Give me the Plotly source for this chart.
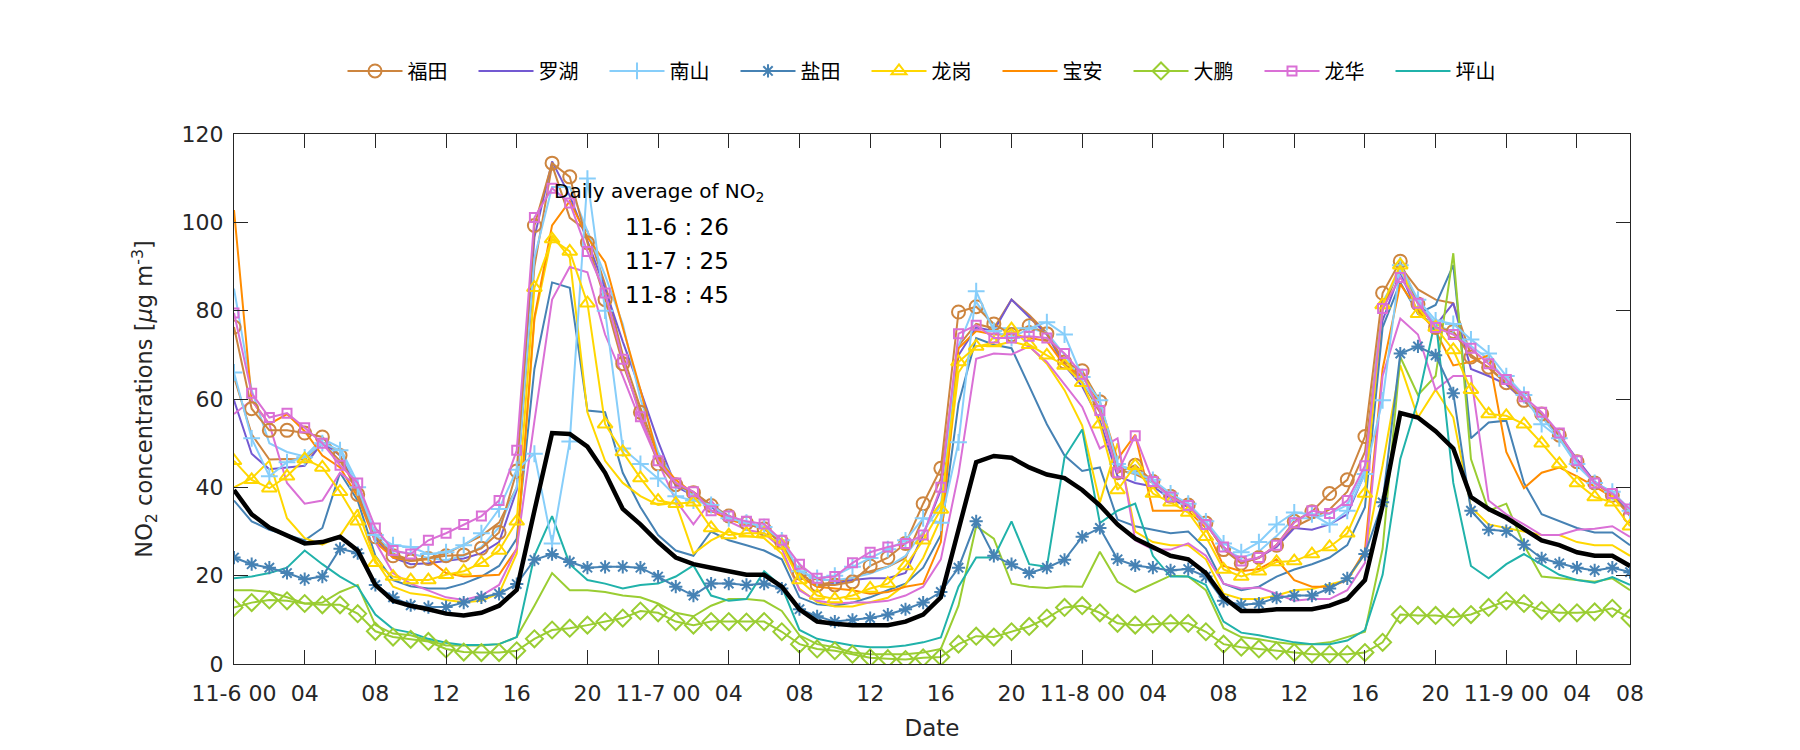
import plotly.graph_objects as go

# time index (hourly, 11-6 00:00 ... ), 80 points
hours = list(range(1, 81))

tick_vals = [1, 5, 9, 13, 17, 21, 25, 29, 33, 37, 41, 45, 49, 53, 57, 61, 65, 69, 73, 77, 80]
tick_text = ["11-6 00", "04", "08", "12", "16", "20", "11-7 00", "04", "08", "12", "16", "20",
             "11-8 00", "04", "08", "12", "16", "20", "11-9 00", "04", "08"]

futian = [76.3, 57.8, 52.9, 52.9, 52.3, 51.4, 47.2, 38.4, 28.8, 24.5, 23.3, 23.9, 24.5, 24.7, 26.2, 29.8, 43.7, 99.3, 113.4, 110.3, 95.4,
          82.5, 68.0, 57.0, 45.3, 40.6, 38.8, 35.9, 33.5, 31.9, 30.6, 27.6, 20.6, 17.9, 17.9, 18.6, 22.2, 24.1, 27.3, 36.3, 44.3,
          79.7, 80.9, 77.0, 74.6, 76.6, 74.8, 68.4, 66.4, 59.4, 43.3, 45.0, 41.3, 38.0, 36.0, 31.9, 25.9, 22.8, 24.1, 26.9, 32.3,
          34.5, 38.6, 41.7, 51.5, 84.0, 91.2, 81.5, 76.2, 75.3, 69.5, 67.2, 63.7, 59.7, 56.6, 51.8, 45.8, 41.0, 38.2, 33.5]
futian_2 = [65, 52, 46.3, 46.4, 46.3, 50, 46, 40, 29, 25, 23.5, 24, 25, 27, 29, 32, 40, 90, 113, 101, 98,
            86, 70, 58, 47, 41, 39, 36, 33.5, 32, 31, 28, 20.5, 18, 18.5, 19.5, 21, 22, 24, 33, 42,
            72, 77, 76, 82.5, 79, 75, 68, 64, 57, 44, 43, 41, 38, 36, 32, 26, 23, 24, 27, 31,
            33, 35, 39, 48, 80, 90, 84.8, 82.5, 81.7, 70, 67, 63.5, 59.5, 56, 51.5, 45.5, 41, 38.5, 34]
luohu = [59.7, 47.6, 44.1, 44.5, 44.9, 50.2, 47.2, 39.4, 28.4, 24.1, 22.6, 22.8, 23.3, 23.9, 25.1, 27.6, 39.4, 96.6, 113.8, 106.0, 95.8,
         85, 73, 62, 50.4, 40.2, 38.2, 35.5, 33.1, 31.7, 30.6, 27.3, 19.8, 17.5, 18.2, 19.0, 19.4, 19.4, 20.6, 29.2, 39.4,
         69.9, 76.2, 75.4, 82.5, 78.5, 74.6, 67.6, 62.9, 55.1, 42.5, 41.0, 40.2, 37.4, 35.5, 31.6, 26.5, 22.9, 24.1, 26.5, 30.8,
         30.4, 31.6, 33.9, 43.3, 77.8, 88.7, 79.3, 76.6, 81.7, 66.8, 65.2, 63.3, 59.7, 56.2, 51.9, 46.4, 41.3, 38.6, 33.9]
nanshan = [66.0, 51.1, 42.5, 45.7, 46.8, 50.0, 48.4, 40.0, 29.2, 26.9, 26.5, 24.9, 25.3, 26.9, 29.6, 35.1, 44.0, 47.6, 27.3, 50.4, 109.9,
           80, 48.8, 45.3, 42, 38, 37, 36, 33, 32, 31, 28, 21, 19.5, 20, 22, 24, 26, 28, 33, 32,
           50.2, 84.4, 75.4, 73.8, 76, 77.4, 74.6, 65, 59.7, 45.3, 43.3, 41.7, 38.6, 36.3, 32.3, 27.3, 25.3, 27.6, 31.6, 34.3,
           33.9, 31.6, 34.7, 43, 59.7, 90.3, 82.5, 77.8, 77, 73.5, 70.3, 65.2, 60.9, 54.3, 51.1, 45.3, 41.0, 39.0, 34.7]
nanshan_2 = [85, 62, 50, 48, 47, 51, 49, 41, 29, 25.5, 25, 24, 23.5, 24.5, 26.5, 31, 40, 92, 108, 108, 98,
             88, 77, 60, 48, 41, 38, 36, 33.5, 32, 31, 28, 21, 19, 19, 19.5, 20.5, 22, 24.5, 30, 36,
             72, 82, 76, 76, 76, 75, 70, 64, 58, 45, 44, 41, 38, 36, 32, 26, 24, 25.5, 29, 33,
             33, 34, 36, 44, 82, 89, 82, 77, 75, 72, 69, 64, 60, 56, 51, 45, 41, 39, 35]
yantian = [24.1, 22.6, 21.8, 20.6, 19.2, 19.8, 26.1, 25.1, 17.9, 15.1, 13.3, 12.9, 12.9, 13.9, 15.1, 15.9, 18.1, 23.6, 24.9, 23.1, 21.8,
           22.0, 22.0, 21.8, 19.8, 17.5, 15.5, 18.2, 18.2, 17.9, 18.2, 17.1, 12.4, 10.8, 9.6, 10.0, 10.4, 11.2, 12.4, 13.9, 16.3,
           21.8, 32.3, 24.5, 22.6, 20.6, 21.8, 23.6, 28.8, 30.8, 23.7, 22.3, 21.8, 21.2, 21.5, 19.8, 14.3, 13.4, 13.7, 15.0, 15.5,
           15.5, 17.1, 19.4, 24.9, 36.6, 70.3, 71.9, 69.9, 61.3, 34.7, 30.4, 30.1, 27.0, 23.9, 22.8, 21.8, 21.2, 21.8, 20.8]
yantian_2 = [37, 32.3, 30.4, 29.2, 28, 30.8, 43.3, 37, 24.5, 19, 17.6, 17.1, 17.1, 18.2, 19.8, 22.2, 28.4, 66.8, 86.4, 85.2, 57.4,
             57, 43.3, 35.5, 29.2, 25.7, 24.5, 30, 28, 26.9, 25.7, 23.7, 15.1, 13.5, 13.2, 13.9, 15.1, 16.7, 18.2, 21.8, 29.2,
             59, 73.8, 72.3, 71.5, 62.9, 54.3, 47.2, 43.7, 44.5, 32.7, 31.2, 30.4, 29.6, 30.0, 26.1, 18.2, 16.7, 17.5, 19.8, 21.4,
             22.6, 24.1, 26.9, 35.5, 76.2, 86.4, 79.3, 81.3, 90.3, 51.1, 54.7, 55.1, 41.0, 33.9, 32.3, 30.8, 29.8, 29.8, 26.9]
longgang = [46, 41.7, 39.8, 42.5, 46.4, 44.5, 39.0, 32.3, 22.9, 19.8, 19.0, 19.0, 20.2, 21.0, 22.9, 25.7, 32.3, 85.2, 96.2, 93.4, 81.7,
            54.3, 48.0, 42.1, 37.0, 36.3, 36.6, 30.8, 29.2, 29.6, 29.6, 26.9, 19.0, 15.5, 14.7, 15.5, 17.1, 18.2, 22.2, 28.0, 35,
            68.4, 71.9, 72.7, 75.8, 72.3, 69.9, 67.6, 63.7, 54.3, 39.4, 44.9, 38.6, 36.6, 34.3, 28.8, 21.4, 19.8, 21.0, 23.1, 23.3,
            24.9, 26.5, 29.6, 38.6, 81.3, 90.3, 79.3, 76.2, 71.1, 62.1, 56.6, 56.2, 54.3, 50.0, 45.3, 41.0, 37.8, 36.6, 31.2]
longgang_2 = [40, 42, 46, 33, 28.5, 27, 29, 35, 23.5, 17.5, 16, 15.5, 14.5, 14, 14.3, 16, 25, 78, 97, 92, 57,
              46, 41, 38, 36, 36.5, 25, 28, 30, 29, 28.5, 25, 17, 14, 13, 13, 14, 15, 18, 24, 33,
              66, 72, 72, 73, 72, 68, 62, 54, 36.6, 50, 30, 27.6, 26.9, 26.9, 23.7, 15.9, 14.7, 14.7, 15.5, 16.7,
              17, 18, 19, 25, 45, 67.6, 55.8, 62.1, 55.8, 35.5, 31.6, 30.8, 30, 29.2, 29.2, 27.6, 26.9, 26.9, 24.5]
baoan = [102.8, 59.7, 54.3, 56.6, 52.7, 47.2, 44.5, 37.8, 27.6, 24.1, 23.3, 23.7, 20.6, 19.8, 20.0, 20.2, 26.1, 78.5, 99.3, 104.8, 96.6,
         91.0, 76.2, 62.1, 46.4, 41.7, 38.6, 34.7, 32.7, 31.6, 30.8, 27.3, 19.8, 17.5, 17.1, 16.7, 15.9, 16.3, 17.5, 18.2, 27.6,
         71.5, 75.4, 74.6, 74.6, 73.8, 73.1, 67.6, 65.2, 59.0, 46.4, 51.9, 34.7, 34.7, 34.7, 30.8, 22.2, 21.0, 21.5, 23.7, 19.0,
         17.5, 17.5, 19.0, 25.7, 66.8, 86.0, 80.1, 75.4, 67.6, 68.4, 69.9, 48.0, 39.8, 43.3, 44.5, 42.5, 40.2, 37.8, 33.9]
dapeng = [12.8, 13.9, 14.5, 14.3, 13.7, 13.4, 13.4, 11.4, 7.4, 6.1, 5.6, 5.1, 3.4, 2.7, 2.6, 2.6, 3.0, 5.7, 7.7, 8.1, 8.8,
          9.6, 10.4, 12.0, 11.6, 9.6, 8.8, 9.6, 9.6, 9.5, 9.6, 7.3, 4.5, 3.4, 3.0, 2.2, 1.4, 1.2, 1.0, 1.4, 1.6,
          4.5, 6.3, 6.1, 7.3, 8.5, 10.4, 12.8, 13.2, 11.6, 9.2, 8.8, 9.0, 9.2, 9.2, 7.3, 4.5, 3.8, 3.4, 3.0, 2.6,
          2.2, 2.2, 2.2, 2.6, 4.9, 11.2, 11.0, 11.0, 10.6, 11.2, 12.8, 14.3, 13.7, 12.1, 11.6, 11.6, 11.8, 12.6, 10.4]
dapeng_2 = [16.7, 16.7, 16.3, 15.1, 13.7, 13.9, 16.3, 17.9, 8.8, 6.9, 6.5, 5.3, 4.2, 4.2, 4.2, 4.5, 6.1, 13.2, 20.6, 16.7, 16.7,
            16.3, 15.5, 15.1, 13.7, 11.6, 10.8, 13.2, 14.7, 14.7, 14.3, 12.0, 6.5, 4.5, 3.8, 2.6, 2.2, 2.2, 2.2, 2.6, 3.4,
            13.2, 31.2, 28.4, 18.2, 17.5, 17.2, 17.6, 17.5, 25.4, 18.6, 16.3, 18.2, 20.0, 19.8, 16.7, 8.1, 6.1, 5.6, 4.9, 4.5,
            4.5, 4.9, 6.1, 7.3, 26.1, 69.5, 60.9, 65.2, 93.0, 46.4, 34.7, 36.3, 26.9, 19.8, 19.4, 19.0, 18.6, 19.4, 16.7]
longhua = [79.5, 61.3, 55.8, 56.8, 53.5, 50.0, 45.0, 41.0, 30.8, 25.7, 24.9, 28.0, 29.6, 31.6, 33.5, 37.0, 48.4, 101.1, 107.7, 104.4, 93.4,
           84, 69, 56, 46, 41, 39, 34.7, 33.5, 32.3, 31.7, 28, 22.6, 19.4, 19.8, 22.9, 25.3, 26.5, 27.3, 29.2, 40.0,
           74.8, 76.7, 73.8, 73.8, 74.2, 73.8, 70.3, 65.6, 57.4, 43.3, 51.7, 41.3, 37.8, 35.9, 31.6, 26.5, 23.3, 24.1, 26.9, 32.0,
           34.7, 34.1, 37.0, 44.9, 80.5, 87.5, 81.7, 76.2, 74.6, 71.5, 68.0, 64.4, 60.5, 57.0, 52.3, 46.0, 41.0, 38.6, 35.1]
longhua_2 = [56.6, 59.7, 54.3, 41, 36.3, 37, 43.3, 40.2, 27.6, 20.6, 18.2, 16.7, 15.1, 14.5, 15.5, 17.9, 26.1, 55, 82.5, 89.9, 88.7,
             74.6, 65.2, 55, 45.7, 37, 31.6, 37, 32.3, 30.4, 29.6, 26.1, 16.7, 14.3, 13.7, 13.9, 13.9, 14.3, 15.5, 17.5, 23.7,
             43, 69.1, 70.3, 70.1, 71.9, 68.4, 63.3, 58.2, 48.8, 51.1, 28.0, 25.9, 25.9, 27.3, 24.5, 18.2, 17.1, 17.3, 15.9, 14.3,
             14.7, 14.7, 16.7, 22.9, 65.2, 78.2, 74.6, 62.1, 65.2, 65.2, 37.0, 33.9, 31.6, 29.2, 29.2, 30.4, 30.6, 31.2, 28.8]
pingshan = [19.4, 19.8, 20.6, 21.8, 25.7, 22.6, 19.8, 17.5, 11.2, 7.9, 7.1, 5.7, 4.8, 4.3, 4.3, 4.5, 6.1, 24.5, 33.5, 22.6, 19.0,
            18.2, 17.1, 17.9, 18.2, 19.8, 22.3, 15.5, 14.3, 14.7, 21.0, 17.5, 7.7, 5.7, 4.9, 4.2, 3.8, 3.8, 4.2, 4.9, 6.0,
            17.5, 24.1, 24.1, 32.3, 22.6, 22.0, 46.8, 53.1, 31.9, 34.7, 36.3, 24.5, 19.8, 19.8, 17.9, 9.6, 7.1, 6.5, 5.7, 4.9,
            4.5, 4.5, 5.3, 7.7, 20.2, 46.4, 59.7, 78.2, 41.0, 22.2, 19.4, 22.6, 24.9, 22.6, 20.2, 19.0, 18.4, 19.7, 17.9]
city_mean = [39.4, 33.9, 30.9, 29.2, 27.3, 27.6, 28.8, 25.7, 17.9, 14.3, 13.2, 12.4, 11.4, 11.0, 11.6, 13.2, 16.8, 34.7, 52.3, 52.1, 49.2,
             43.3, 35.1, 31.6, 27.6, 24.1, 22.6, 21.8, 21.0, 20.2, 20.2, 17.5, 12.4, 9.6, 9.1, 8.8, 8.8, 8.8, 9.6, 11.2, 15.1,
             30.4, 45.7, 47.1, 46.7, 44.5, 42.9, 42.1, 39.4, 35.9, 31.6, 28.4, 26.5, 24.5, 23.7, 20.6, 15.1, 12.0, 12.0, 12.4, 12.4,
             12.4, 13.2, 14.7, 19.0, 35.9, 56.8, 55.8, 52.7, 48.8, 37.8, 35.1, 33.1, 30.4, 28.0, 26.9, 25.3, 24.5, 24.5, 22.2]

daily_lines = ["11-6 : 26", "11-7 : 25", "11-8 : 45"]

FONT = "DejaVu Sans"
CJK = "Noto Sans CJK SC"
AX = "#262626"

# (name, values, color, marker symbol, marker size, in legend)
series = [
    ("福田", futian_2, "#CD853F", None, 0, False),
    ("罗湖", luohu, "#7359D2", None, 0, True),
    ("南山", nanshan_2, "#87CEFA", None, 0, False),
    ("盐田", yantian_2, "#4682B4", None, 0, False),
    ("龙岗", longgang_2, "#FFD700", None, 0, False),
    ("宝安", baoan, "#FF8C00", None, 0, True),
    ("大鹏", dapeng_2, "#9ACD32", None, 0, False),
    ("龙华", longhua_2, "#DA70D6", None, 0, False),
    ("坪山", pingshan, "#20B2AA", None, 0, True),
    ("福田", futian, "#CD853F", "circle-open", 13, True),
    ("南山", nanshan, "#87CEFA", "cross-thin-open", 12, True),
    ("盐田", yantian, "#4682B4", "asterisk-open", 11, True),
    ("龙岗", longgang, "#FFD700", "triangle-up-open", 13, True),
    ("大鹏", dapeng, "#9ACD32", "diamond-open", 13, True),
    ("龙华", longhua, "#DA70D6", "square-open", 9, True),
]
legend_rank = {"福田": 1, "罗湖": 2, "南山": 3, "盐田": 4, "龙岗": 5, "宝安": 6, "大鹏": 7, "龙华": 8, "坪山": 9}

fig = go.Figure()
for name, vals, color, sym, msize, inleg in series:
    if sym:
        fig.add_trace(go.Scatter(
            x=hours, y=vals, name=name, mode="lines+markers",
            line=dict(color=color, width=2),
            marker=dict(symbol=sym, size=msize, color=color, line=dict(color=color, width=2)),
            showlegend=inleg, legendrank=legend_rank[name]))
    else:
        fig.add_trace(go.Scatter(
            x=hours, y=vals, name=name, mode="lines",
            line=dict(color=color, width=2),
            showlegend=inleg, legendrank=legend_rank[name]))

fig.add_trace(go.Scatter(x=hours, y=city_mean, mode="lines", name="mean",
                         line=dict(color="black", width=4.5), showlegend=False))

fig.add_annotation(x=19.0, y=106.8, xref="x", yref="y", xanchor="left", yanchor="middle",
                   text="Daily average of NO<sub>2</sub>", showarrow=False,
                   font=dict(family=FONT, size=20, color="black"))
for i, t in enumerate(daily_lines):
    fig.add_annotation(x=23.0, y=99.0 - 7.7 * i, xref="x", yref="y", xanchor="left", yanchor="middle",
                       text=t, showarrow=False, font=dict(family=FONT, size=23, color="black"))

fig.update_layout(
    width=1784, height=734,
    margin=dict(l=226, r=162, t=126, b=78),
    paper_bgcolor="white", plot_bgcolor="white",
    font=dict(family=FONT, size=22, color=AX),
    legend=dict(orientation="h", x=0.5, xanchor="center", y=1.119, yanchor="middle",
                font=dict(family=CJK, size=20, color="black"),
                itemwidth=55, entrywidth=61, entrywidthmode="pixels", traceorder="normal",
                bgcolor="rgba(0,0,0,0)"),
)
fig.update_xaxes(range=[1, 80], tickmode="array", tickvals=tick_vals, ticktext=tick_text,
                 ticks="inside", ticklen=14, tickcolor=AX, showline=True, linecolor=AX, linewidth=1,
                 mirror="ticks", showgrid=False, zeroline=False, ticklabelstandoff=10, automargin=False,
                 tickfont=dict(family=FONT, size=22, color=AX),
                 title=dict(text="Date", standoff=14, font=dict(family=FONT, size=23, color=AX)))
fig.update_yaxes(range=[0, 120], tickmode="array", tickvals=[0, 20, 40, 60, 80, 100, 120],
                 ticks="inside", ticklen=14, tickcolor=AX, showline=True, linecolor=AX, linewidth=1,
                 mirror="ticks", showgrid=False, zeroline=False, ticklabelstandoff=5, automargin=False,
                 tickfont=dict(family=FONT, size=22, color=AX),
                 title=dict(text="NO<sub>2</sub> concentrations [<i>μ</i>g m<sup>-3</sup>]", standoff=22,
                            font=dict(family=FONT, size=22.5, color=AX)))

fig.write_html("out.html")
